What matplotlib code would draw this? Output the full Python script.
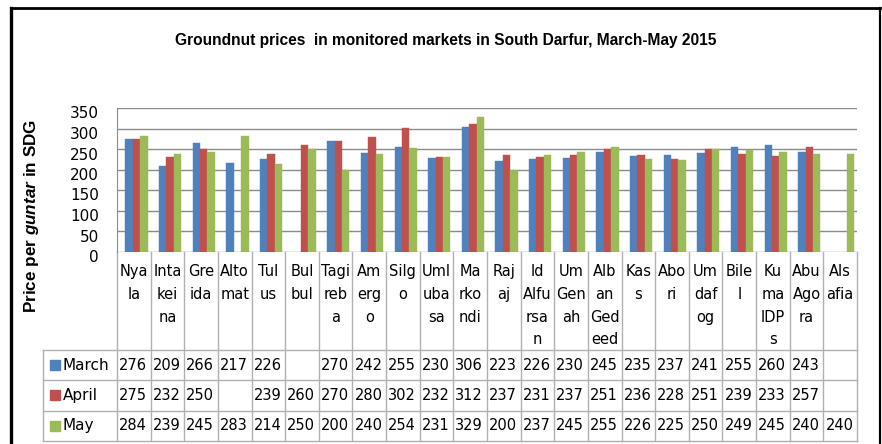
import numpy as np
import matplotlib
matplotlib.use("Agg")
import matplotlib.pyplot as plt
import matplotlib.transforms as mtrans
from matplotlib.patches import Rectangle
from matplotlib.lines import Line2D

markets = ["Nya\nla", "Inta\nkei\nna", "Gre\nida", "Alto\nmat", "Tul\nus", "Bul\nbul",
           "Tagi\nreb\na", "Am\nerg\no", "Silg\no", "Uml\nuba\nsa", "Ma\nrko\nndi",
           "Raj\naj", "Id\nAlfu\nrsa\nn", "Um\nGen\nah", "Alb\nan\nGed\need", "Kas\ns",
           "Abo\nri", "Um\ndaf\nog", "Bile\nl", "Ku\nma\nIDP\ns", "Abu\nAgo\nra",
           "Als\nafia"]
march = [276, 209, 266, 217, 226, None, 270, 242, 255, 230, 306, 223, 226, 230,
         245, 235, 237, 241, 255, 260, 243, None]
april = [275, 232, 250, None, 239, 260, 270, 280, 302, 232, 312, 237, 231, 237,
         251, 236, 228, 251, 239, 233, 257, None]
may = [284, 239, 245, 283, 214, 250, 200, 240, 254, 231, 329, 200, 237, 245,
       255, 226, 225, 250, 249, 245, 240, 240]
series = ["March", "April", "May"]
colors = ["#4F81BD", "#C0504D", "#9BBB59"]

W, H = 882, 444
def fx(px):
    return px / W
def fy(py):
    return 1 - py / H

AX_TOP, AX_BOT = 108.5, 252
def ya(py):  # pixel row -> axes fraction
    return (AX_BOT - py) / (AX_BOT - AX_TOP)

fig = plt.figure(figsize=(W / 100, H / 100), dpi=100)
ax = fig.add_axes([fx(117), fy(AX_BOT), 740 / W, (AX_BOT - AX_TOP) / H])

n = len(markets)
width = 0.22
for k, (vals, c) in enumerate(zip([march, april, may], colors)):
    xs = [i + 0.08 + (k - 1) * width for i, v in enumerate(vals) if v is not None]
    hs = [v for v in vals if v is not None]
    ax.bar(xs, hs, width=width, color=c, edgecolor=c, linewidth=0.3, zorder=3)

ax.set_xlim(-0.5, n - 0.5)
ax.set_ylim(0, 350)
ax.set_yticks(range(0, 351, 50))
ax.set_xticks([])
ax.tick_params(axis="y", length=0, pad=13, labelsize=11)
off = mtrans.ScaledTranslation(0, -4 / 100, fig.dpi_scale_trans)
for lab in ax.get_yticklabels():
    lab.set_transform(lab.get_transform() + off)
ax.grid(axis="y", color="#8c8c8c", linewidth=1, zorder=0)
for s in ["top", "right", "bottom"]:
    ax.spines[s].set_visible(False)
ax.spines["left"].set_color("#8c8c8c")

# data table under the plot, drawn by hand
blend = mtrans.blended_transform_factory(ax.transData, ax.transAxes)
grid_c = "#b0b0b0"
row_lines = [350, 380.3, 410.6, 441]
x_left = -0.5 - 74 / (740 / n)
for i in range(n + 1):
    ax.add_line(Line2D([i - 0.5, i - 0.5], [ya(AX_BOT), ya(441)], color=grid_c,
                       lw=1, transform=blend, clip_on=False))
ax.add_line(Line2D([x_left, x_left], [ya(350), ya(441)], color=grid_c, lw=1,
                   transform=blend, clip_on=False))
for py in row_lines:
    ax.add_line(Line2D([x_left, n - 0.5], [ya(py), ya(py)], color=grid_c, lw=1,
                       transform=blend, clip_on=False))

for i, lab in enumerate(markets):
    ax.text(i, ya(264), lab, transform=blend, ha="center", va="top",
            fontsize=10.5, linespacing=1.65, clip_on=False)

for r, vals in enumerate([march, april, may]):
    yc = ya((row_lines[r] + row_lines[r + 1]) / 2)
    for i, v in enumerate(vals):
        if v is None:
            continue
        ax.text(i - 0.5 + 0.06, yc, str(v), transform=blend, ha="left",
                va="center", fontsize=10.5, clip_on=False)

for r, (name, c) in enumerate(zip(series, colors)):
    yy = (row_lines[r] + row_lines[r + 1]) / 2
    fig.add_artist(Rectangle((fx(50), fy(yy + 5)), 10 / W, 10 / H,
                             transform=fig.transFigure, color=c))
    fig.text(fx(63), fy(yy), name, fontsize=11, va="center", ha="left")

fig.text(fx(446), fy(40), "Groundnut prices  in monitored markets in South Darfur, March-May 2015",
         ha="center", va="center", fontsize=11.2, fontweight="bold",
         family="Liberation Sans")

plt.rcParams["mathtext.fontset"] = "custom"
plt.rcParams["mathtext.bfit"] = "Liberation Sans:bold:italic"
fig.text(fx(32), fy(216), r"Price per $\mathbfit{guntar}$ in SDG", rotation=90,
         ha="center", va="center", fontsize=12.3, fontweight="bold",
         family="Liberation Sans")

# outer black frame
fig.add_artist(Line2D([fx(10.5), fx(10.5)], [fy(8.5), -0.1], color="black", lw=2.4,
                      transform=fig.transFigure))
fig.add_artist(Line2D([fx(10.5), fx(880)], [fy(8.5), fy(8.5)], color="black", lw=2,
                      transform=fig.transFigure))
fig.add_artist(Line2D([fx(880), fx(880)], [fy(8.5), -0.1], color="black", lw=1.6,
                      transform=fig.transFigure))

fig.savefig("out.png", dpi=100)
